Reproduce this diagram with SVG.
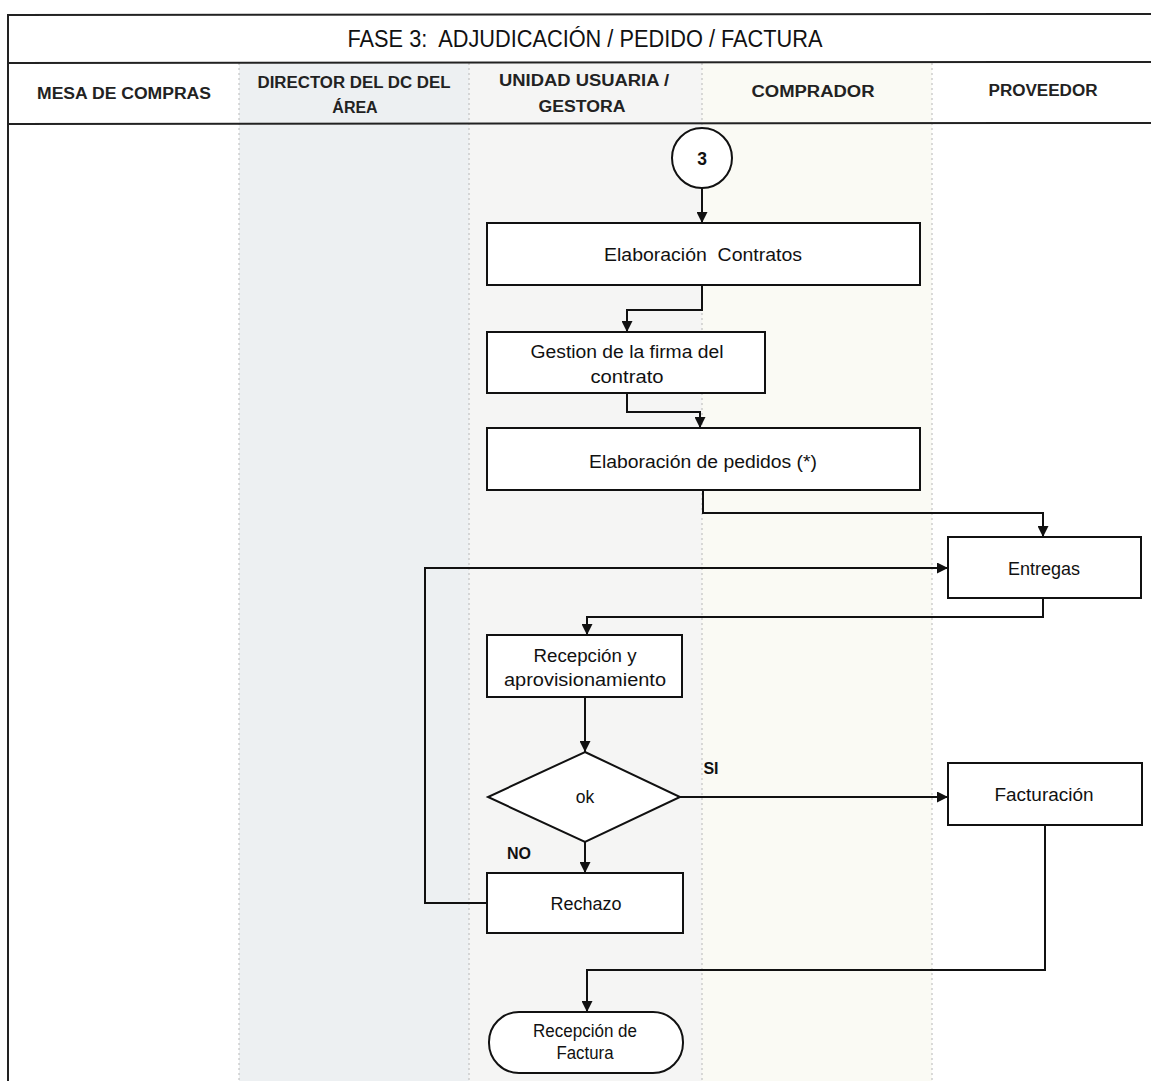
<svg xmlns="http://www.w3.org/2000/svg" width="1151" height="1081" viewBox="0 0 1151 1081">
<style>
.lane-div{stroke:#b8b8b8;stroke-width:1;stroke-dasharray:2 3;fill:none}
.frame{stroke:#222;stroke-width:2;fill:none}
.box{fill:#fff;stroke:#111;stroke-width:2}
.conn{fill:none;stroke:#111;stroke-width:2}
.t{font-family:"Liberation Sans",Arial,sans-serif;font-size:17.5px;fill:#111;text-anchor:middle}
.h{font-family:"Liberation Sans",Arial,sans-serif;font-size:16px;font-weight:bold;fill:#222;text-anchor:middle}
.title{font-family:"Liberation Sans",Arial,sans-serif;font-size:23px;fill:#111;text-anchor:middle}
.lbl{font-family:"Liberation Sans",Arial,sans-serif;font-size:16px;font-weight:bold;fill:#111;text-anchor:middle}
</style>
<defs>
<marker id="arr" viewBox="0 0 10 10" refX="10" refY="5" markerWidth="11" markerHeight="11" markerUnits="userSpaceOnUse" orient="auto">
<path d="M0,0 L10,5 L0,10 z" fill="#111"/>
</marker>
</defs>
<rect x="0" y="0" width="1151" height="1081" fill="#fff"/>
<g id="lanes">
<rect x="239" y="63" width="230" height="1018" fill="#edf0f2"/>
<rect x="469" y="63" width="233" height="1018" fill="#f5f5f4"/>
<rect x="702" y="63" width="230" height="1018" fill="#fafaf4"/>
<line class="lane-div" x1="239" y1="63" x2="239" y2="1081"/>
<line class="lane-div" x1="469" y1="63" x2="469" y2="1081"/>
<line class="lane-div" x1="702" y1="63" x2="702" y2="1081"/>
<line class="lane-div" x1="932" y1="63" x2="932" y2="1081"/>
</g>
<g id="frame">
<line class="frame" x1="8" y1="15" x2="1151" y2="14"/>
<line class="frame" x1="8" y1="63" x2="1151" y2="62"/>
<line class="frame" x1="8" y1="124" x2="1151" y2="123"/>
<line class="frame" x1="8" y1="14" x2="8" y2="1081"/>
</g>
<g id="header">
<text class="title" x="585" y="47" textLength="475" lengthAdjust="spacingAndGlyphs" xml:space="preserve">FASE 3:  ADJUDICACIÓN / PEDIDO / FACTURA</text>
<text class="h" x="124" y="99" textLength="174" lengthAdjust="spacingAndGlyphs">MESA DE COMPRAS</text>
<text class="h" x="354" y="88" textLength="193" lengthAdjust="spacingAndGlyphs">DIRECTOR DEL DC DEL</text>
<text class="h" x="355" y="113">ÁREA</text>
<text class="h" x="584" y="86" textLength="170" lengthAdjust="spacingAndGlyphs">UNIDAD USUARIA /</text>
<text class="h" x="582" y="112" textLength="87" lengthAdjust="spacingAndGlyphs">GESTORA</text>
<text class="h" x="813" y="97" textLength="123" lengthAdjust="spacingAndGlyphs">COMPRADOR</text>
<text class="h" x="1043" y="96" textLength="109" lengthAdjust="spacingAndGlyphs">PROVEEDOR</text>
</g>
<g id="connectors">
<path class="conn" d="M702,188 V223" marker-end="url(#arr)"/>
<path class="conn" d="M702,285 V310 H627 V332" marker-end="url(#arr)"/>
<path class="conn" d="M627,393 V412 H700 V428" marker-end="url(#arr)"/>
<path class="conn" d="M703,490 V513 H1043 V537" marker-end="url(#arr)"/>
<path class="conn" d="M1043,598 V617 H587 V635" marker-end="url(#arr)"/>
<path class="conn" d="M585,697 V752" marker-end="url(#arr)"/>
<path class="conn" d="M680,797 H948" marker-end="url(#arr)"/>
<path class="conn" d="M585,842 V873" marker-end="url(#arr)"/>
<path class="conn" d="M487,903 H425 V568 H948" marker-end="url(#arr)"/>
<path class="conn" d="M1045,825 V970 H587 V1012" marker-end="url(#arr)"/>
<text class="lbl" x="711" y="774">SI</text>
<text class="lbl" x="519" y="859">NO</text>
</g>
<g id="n-start">
<circle class="box" cx="702" cy="158" r="30"/>
<text class="t" x="702" y="165" font-weight="bold" font-size="20">3</text>
</g>
<g id="n-contratos">
<rect class="box" x="487" y="223" width="433" height="62"/>
<text class="t" x="703" y="261" xml:space="preserve" textLength="198" lengthAdjust="spacingAndGlyphs">Elaboración  Contratos</text>
</g>
<g id="n-firma">
<rect class="box" x="487" y="332" width="278" height="61"/>
<text class="t" x="627" y="358" textLength="193" lengthAdjust="spacingAndGlyphs">Gestion de la firma del</text>
<text class="t" x="627" y="383" textLength="73" lengthAdjust="spacingAndGlyphs">contrato</text>
</g>
<g id="n-pedidos">
<rect class="box" x="487" y="428" width="433" height="62"/>
<text class="t" x="703" y="468" textLength="228" lengthAdjust="spacingAndGlyphs">Elaboración de pedidos (*)</text>
</g>
<g id="n-entregas">
<rect class="box" x="948" y="537" width="193" height="61"/>
<text class="t" x="1044" y="575" textLength="72" lengthAdjust="spacingAndGlyphs">Entregas</text>
</g>
<g id="n-recepcion">
<rect class="box" x="487" y="635" width="195" height="62"/>
<text class="t" x="585" y="662" textLength="103" lengthAdjust="spacingAndGlyphs">Recepción y</text>
<text class="t" x="585" y="686" textLength="162" lengthAdjust="spacingAndGlyphs">aprovisionamiento</text>
</g>
<g id="n-ok">
<polygon class="box" points="585,752 680,797 585,842 488,797"/>
<text class="t" x="585" y="803">ok</text>
</g>
<g id="n-facturacion">
<rect class="box" x="948" y="763" width="194" height="62"/>
<text class="t" x="1044" y="801" textLength="99" lengthAdjust="spacingAndGlyphs">Facturación</text>
</g>
<g id="n-rechazo">
<rect class="box" x="487" y="873" width="196" height="60"/>
<text class="t" x="586" y="910" textLength="71" lengthAdjust="spacingAndGlyphs">Rechazo</text>
</g>
<g id="n-recfactura">
<rect class="box" x="489" y="1012" width="194" height="61" rx="30" ry="30"/>
<text class="t" x="585" y="1037" textLength="104" lengthAdjust="spacingAndGlyphs">Recepción de</text>
<text class="t" x="585" y="1059" textLength="57" lengthAdjust="spacingAndGlyphs">Factura</text>
</g>
</svg>
